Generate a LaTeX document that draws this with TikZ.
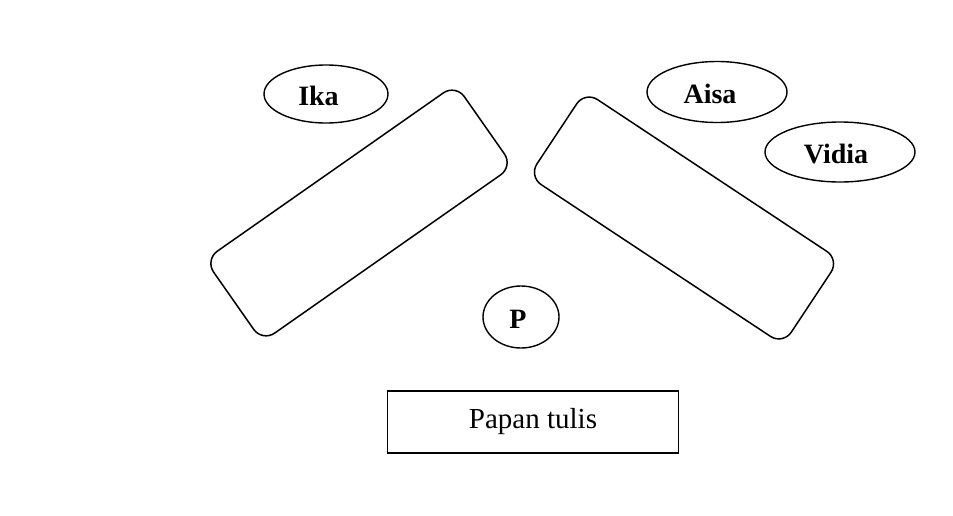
\documentclass[tikz,border=0pt]{standalone}
\usepackage{fontspec}
\setmainfont{Liberation Serif}
\usetikzlibrary{shapes.geometric}
\begin{document}
\begin{tikzpicture}[x=1pt,y=-1pt,
  tablebox/.style={draw, line width=1.5pt, rounded corners=15pt, minimum height=100pt, inner sep=0pt},
  personell/.style={draw, ellipse, line width=1.4pt, inner sep=0pt},
  nametext/.style={font=\fontsize{28}{34}\selectfont\bfseries, inner sep=0pt},
  boardbox/.style={draw, line width=1.4pt, minimum width=291pt, minimum height=62pt, inner sep=0pt, font=\fontsize{29}{35}\selectfont}]
\useasboundingbox[fill=white] (0,0) rectangle (953,515);
% tables
\node[tablebox, minimum width=306pt, rotate=35] (t1) at (359,213) {};
\node[tablebox, minimum width=305pt, minimum height=102pt, rotate=-33.5] (t2) at (684,218) {};
% people
\node[personell, minimum width=124pt, minimum height=58pt] (e1) at (326,94) {};
\node[nametext] (n1) at (318.5,96) {Ika};
\node[personell, minimum width=140pt, minimum height=61pt] (e2) at (717,92) {};
\node[nametext] (n2) at (710,94) {Aisa};
\node[personell, minimum width=150pt, minimum height=60pt] (e3) at (840,152) {};
\node[nametext] (n3) at (836,154) {Vidia};
\node[personell, minimum width=76pt, minimum height=62pt] (e4) at (521,317) {};
\node[nametext] (n4) at (518,319) {P};
% board
\node[boardbox] (b) at (533,422) {Papan tulis};
\end{tikzpicture}
\end{document}
